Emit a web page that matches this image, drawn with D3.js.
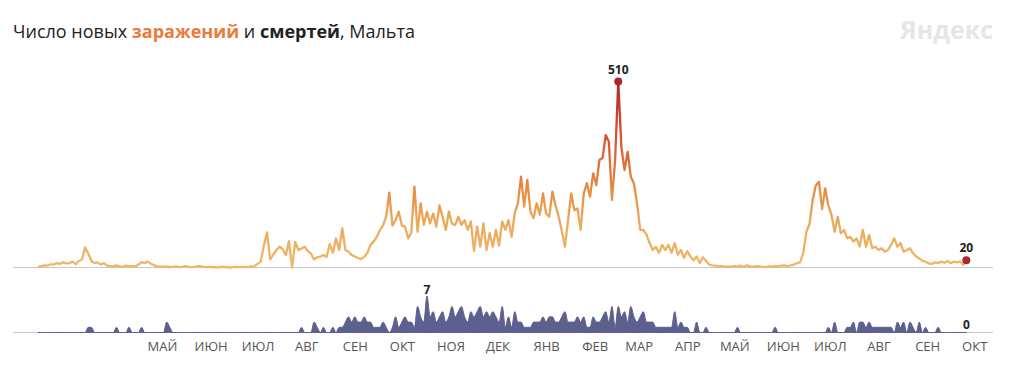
<!DOCTYPE html>
<meta charset="utf-8">
<script src="https://d3js.org/d3.v7.min.js"></script>
<style>
  body { margin: 0; background: #fff; }
  text { font-family: "Open Sans", "Noto Sans", sans-serif; }
</style>
<div id="chart"></div>
<script>
// daily series sampled every 2 days, starting 26 Feb 2020
const startDate = new Date(2020, 1, 26);
const stepDays = 2;

const cases = [
  2,4,6,5,9,8,12,10,14,11,
  12,16,9,18,22,55,38,18,12,14,
  8,12,5,4,3,6,3,2,5,3,
  4,3,8,15,12,16,10,6,3,2,
  2,3,1,2,3,1,2,4,2,1,
  2,4,3,1,1,2,1,0,1,2,
  1,0,1,2,1,1,2,1,3,4,
  10,16,60,96,22,35,48,57,50,34,
  72,0,70,48,52,57,45,38,22,28,
  30,34,29,64,40,80,48,107,48,43,
  34,30,26,23,29,40,62,71,84,103,
  115,140,205,115,130,153,115,112,80,95,
  222,98,176,117,153,121,148,112,170,139,
  103,153,120,117,139,117,130,103,126,45,
  112,57,121,48,94,57,103,60,126,103,
  130,84,150,176,249,167,240,153,135,176,
  145,203,148,139,208,170,139,100,57,130,
  203,157,162,103,203,231,194,258,226,295,
  300,363,345,185,295,510,330,267,317,249,
  230,176,103,103,90,67,48,57,40,62,
  48,62,40,67,35,48,26,45,30,20,
  30,12,28,18,8,6,5,3,4,2,
  3,2,4,3,5,2,6,3,2,4,
  3,2,1,3,2,4,3,5,6,4,
  6,8,12,14,40,98,120,185,225,235,
  160,217,170,144,98,139,94,103,80,84,
  71,80,57,103,57,89,53,57,48,53,
  43,48,62,80,57,67,43,48,53,39,
  30,25,18,16,11,10,14,12,16,13,
  18,12,16,14,17,7,20
];

const deaths = [
  0,0,0,0,0,0,0,0,0,0,
  0,0,0,0,0,0,1,1,0,0,
  0,0,0,0,0,1,0,0,0,1,
  0,0,0,1,0,0,0,0,0,0,
  0,2,1,0,0,0,0,0,0,0,
  0,0,0,0,0,0,0,0,0,0,
  0,0,0,0,0,0,0,0,0,0,
  0,0,0,0,0,0,0,0,0,0,
  0,0,0,0,1,0,0,0,2,1,
  0,1,0,0,1,0,1,1,2,3,
  2,3,2,2,3,2,2,1,1,1,
  2,1,0,1,3,1,2,3,2,2,
  1,5,3,2,7,3,4,2,3,4,
  2,3,5,3,4,5,3,2,4,3,
  4,5,3,4,3,4,3,2,5,1,
  3,1,4,2,2,1,1,1,2,2,
  2,3,2,3,3,2,2,3,4,2,
  2,2,3,2,3,1,1,3,2,2,
  3,4,2,5,1,5,3,4,2,5,
  3,2,3,4,2,2,2,1,1,1,
  1,1,1,4,1,2,1,1,0,0,
  2,0,0,1,0,0,0,0,0,0,
  0,0,0,1,0,0,0,0,0,0,
  0,0,0,0,0,1,0,0,0,0,
  0,0,0,0,0,0,0,0,0,0,
  0,0,1,0,2,0,0,0,1,1,
  2,0,2,2,1,2,1,1,1,1,
  1,1,1,0,2,1,2,0,2,1,
  0,2,0,1,0,0,0,1,0,0,
  0,0,0,0,0,0,0
];

const monthLabels = ["МАЙ","ИЮН","ИЮЛ","АВГ","СЕН","ОКТ","НОЯ","ДЕК","ЯНВ","ФЕВ","МАР","АПР","МАЙ","ИЮН","ИЮЛ","АВГ","СЕН","ОКТ"];
const tickDates = monthLabels.map((m, i) => new Date(2020, 4 + i, 15));

const width = 1024, height = 367;

const svg = d3.select("#chart")
  .append("svg")
    .attr("width", width)
    .attr("height", height);

const rows = cases.map((c, i) => ({
  date: d3.timeDay.offset(startDate, i * stepDays),
  cases: c,
  deaths: deaths[i]
}));

const x = d3.scaleTime()
  .domain([new Date(2020, 1, 10), new Date(2021, 9, 27)])
  .range([13, 993]);

const yTop = d3.scaleLinear().domain([0, 510]).range([267.5, 81.5]);
const yBot = d3.scaleLinear().domain([0, 7]).range([332.5, 296]);

// title
const title = svg.append("text")
  .attr("x", 13)
  .attr("y", 38)
  .attr("font-size", 18)
  .attr("fill", "#222");
title.append("tspan").text("Число новых ");
title.append("tspan").text("заражений").attr("font-weight", "bold").attr("fill", "#ec7a3c");
title.append("tspan").text(" и ");
title.append("tspan").text("смертей").attr("font-weight", "bold");
title.append("tspan").text(", Мальта");

svg.append("text")
  .attr("x", 993)
  .attr("y", 39)
  .attr("text-anchor", "end")
  .attr("font-size", 25)
  .attr("font-weight", "bold")
  .attr("fill", "#e6e6e6")
  .text("Яндекс");

// baselines
svg.append("line")
  .attr("x1", 13).attr("x2", 993)
  .attr("y1", yTop(0)).attr("y2", yTop(0))
  .attr("stroke", "#c6c7cc");
svg.append("line")
  .attr("x1", 13).attr("x2", 993)
  .attr("y1", yBot(0)).attr("y2", yBot(0))
  .attr("stroke", "#c6c7cc");

// colour of the cases line depends on height
const grad = svg.append("defs").append("linearGradient")
  .attr("id", "casesGrad")
  .attr("gradientUnits", "userSpaceOnUse")
  .attr("x1", 0).attr("x2", 0)
  .attr("y1", yTop(0)).attr("y2", yTop(510));
[[0, "#eeb866"], [0.25, "#ebaa5b"], [0.45, "#e6873f"], [0.65, "#dd5b33"], [1, "#b8262a"]]
  .forEach(s => grad.append("stop").attr("offset", s[0]).attr("stop-color", s[1]));

svg.append("path")
  .datum(rows)
  .attr("fill", "none")
  .attr("stroke", "url(#casesGrad)")
  .attr("stroke-width", 2.3)
  .attr("stroke-linejoin", "round")
  .attr("d", d3.line()
    .x(d => x(d.date))
    .y(d => yTop(d.cases)));

// deaths area
svg.append("path")
  .datum(rows)
  .attr("fill", "#5c608e")
  .attr("stroke", "#5c608e")
  .attr("stroke-width", 1)
  .attr("d", d3.area()
    .curve(d3.curveMonotoneX)
    .x(d => x(d.date))
    .y0(yBot(0))
    .y1(d => yBot(d.deaths)));

// markers
const maxCase = rows[d3.maxIndex(rows, d => d.cases)];
const lastRow = rows[rows.length - 1];
[maxCase, lastRow].forEach(d => {
  svg.append("circle")
    .attr("cx", x(d.date))
    .attr("cy", yTop(d.cases))
    .attr("r", 4)
    .attr("fill", "#a9282b");
  svg.append("text")
    .attr("x", x(d.date))
    .attr("y", yTop(d.cases) - 8)
    .attr("text-anchor", "middle")
    .attr("font-size", 12)
    .attr("font-weight", "bold")
    .attr("fill", "#222")
    .text(d.cases);
});

const maxDeath = rows[d3.maxIndex(rows, d => d.deaths)];
svg.append("text")
  .attr("x", x(maxDeath.date))
  .attr("y", yBot(maxDeath.deaths) - 2)
  .attr("text-anchor", "middle")
  .attr("font-size", 12)
  .attr("font-weight", "bold")
  .attr("fill", "#222")
  .text(maxDeath.deaths);
svg.append("text")
  .attr("x", x(lastRow.date))
  .attr("y", yBot(lastRow.deaths) - 4)
  .attr("text-anchor", "middle")
  .attr("font-size", 12)
  .attr("font-weight", "bold")
  .attr("fill", "#222")
  .text(lastRow.deaths);

// month axis
const axis = svg.append("g")
  .attr("transform", "translate(0,339)")
  .call(d3.axisBottom(x)
    .tickValues(tickDates)
    .tickSize(0)
    .tickFormat((d, i) => monthLabels[i]));
axis.select(".domain").remove();
axis.selectAll("text")
  .attr("font-family", "\"Open Sans\", sans-serif")
  .attr("font-size", 13)
  .attr("fill", "#555");
</script>
